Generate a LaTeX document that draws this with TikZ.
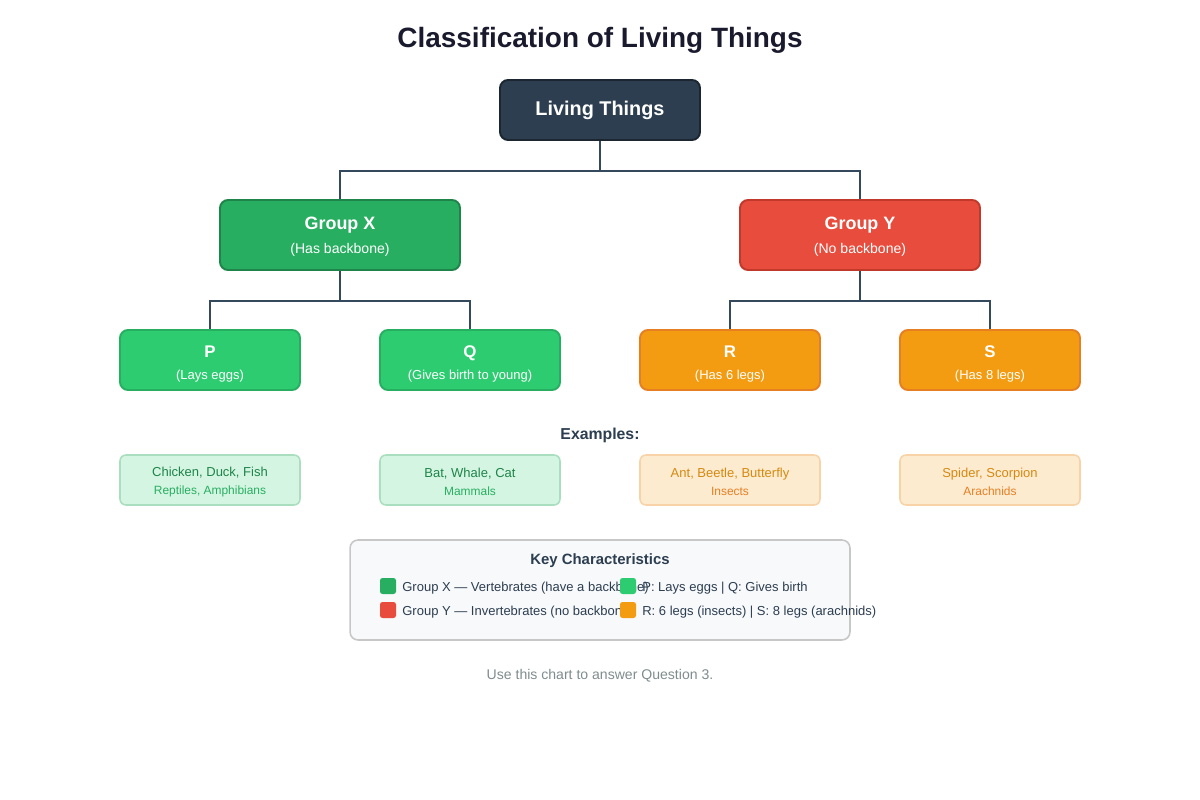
\documentclass[tikz,border=0pt]{standalone}
\usepackage{fontspec}
\setmainfont{Liberation Sans}
\usetikzlibrary{positioning}

\definecolor{ink}{HTML}{1A1A2E}
\definecolor{navy}{HTML}{2C3E50}
\definecolor{navyline}{HTML}{1B2631}
\definecolor{wire}{HTML}{34495E}
\definecolor{grdark}{HTML}{27AE60}
\definecolor{grdarkline}{HTML}{1E8449}
\definecolor{grlight}{HTML}{2ECC71}
\definecolor{redbox}{HTML}{E74C3C}
\definecolor{redline}{HTML}{C0392B}
\definecolor{orbox}{HTML}{F39C12}
\definecolor{orline}{HTML}{E67E22}
\definecolor{grpale}{HTML}{D5F5E3}
\definecolor{grpaleline}{HTML}{A9DFBF}
\definecolor{orpale}{HTML}{FDEBD0}
\definecolor{orpaleline}{HTML}{F8D3A8}
\definecolor{ortext}{HTML}{D68910}
\definecolor{keyfill}{HTML}{F8F9FA}
\definecolor{footgray}{HTML}{7F8C8D}

\begin{document}
\begin{tikzpicture}[x=0.02cm, y=-0.02cm,
    box/.style={draw, line width=1.1pt, rounded corners=0.16cm, align=center,
        text=white, inner sep=0pt},
    groupbox/.style={box, minimum width=4.8cm, minimum height=1.4cm},
    leafbox/.style={box, minimum width=3.6cm, minimum height=1.2cm},
    examplebox/.style={draw, line width=0.9pt, rounded corners=0.12cm, align=center,
        inner sep=0pt, minimum width=3.6cm, minimum height=1cm},
    conn/.style={draw=wire, line width=1.4pt},
    keysq/.style={rounded corners=0.05cm, minimum size=0.32cm, inner sep=0pt},
    keytext/.style={anchor=west, inner sep=0pt, text=navy, font=\fontsize{7.4}{9}\selectfont}]
    \useasboundingbox (0,0) rectangle (1200,800);

    \node[text=ink, font=\bfseries\fontsize{15.9}{18}\selectfont] (title) at (600,40) {Classification of Living Things};

    % tree
    \node[box, fill=navy, draw=navyline, minimum width=4cm, minimum height=1.2cm,
        font=\bfseries\fontsize{11.3}{13}\selectfont] (root) at (600,110) {Living Things};
    \node[groupbox, fill=grdark, draw=grdarkline] (gx) at (340,235)
        {{\bfseries\fontsize{10.2}{12}\selectfont\rule{0pt}{9pt}Group X}\\[1.8pt]{\fontsize{8}{10}\selectfont (Has backbone)}};
    \node[groupbox, fill=redbox, draw=redline] (gy) at (860,235)
        {{\bfseries\fontsize{10.2}{12}\selectfont\rule{0pt}{9pt}Group Y}\\[1.8pt]{\fontsize{8}{10}\selectfont (No backbone)}};
    \foreach \nm/\x/\col/\ln/\big/\small in {p/210/grlight/grdark/P/Lays eggs,
            q/470/grlight/grdark/Q/Gives birth to young,
            r/730/orbox/orline/R/Has 6 legs,
            s/990/orbox/orline/S/Has 8 legs} {
        \node[leafbox, fill=\col, draw=\ln] (\nm) at (\x,360)
            {{\bfseries\fontsize{9.6}{11}\selectfont\rule{0pt}{11pt}\big}\\[0.3pt]{\fontsize{7.4}{9}\selectfont (\small)}};
    }
    \draw[conn] (root.south) -- ++(0,30) -| (gx.north);
    \draw[conn] (root.south) -- ++(0,30) -| (gy.north);
    \draw[conn] (gx.south) -- ++(0,30) -| (p.north);
    \draw[conn] (gx.south) -- ++(0,30) -| (q.north);
    \draw[conn] (gy.south) -- ++(0,30) -| (r.north);
    \draw[conn] (gy.south) -- ++(0,30) -| (s.north);

    % examples
    \node[text=navy, font=\bfseries\fontsize{9}{11}\selectfont] (extitle) at (600,435) {Examples:};
    \node[examplebox, fill=grpale, draw=grpaleline] (exp) at (210,480)
        {{\fontsize{7.4}{9}\selectfont\color{grdarkline}\rule{0pt}{7.5pt}Chicken, Duck, Fish}\\[-1.6pt]{\fontsize{6.8}{8}\selectfont\color{grdark}Reptiles, Amphibians}};
    \node[examplebox, fill=grpale, draw=grpaleline] (exq) at (470,480)
        {{\fontsize{7.4}{9}\selectfont\color{grdarkline}\rule{0pt}{7.5pt}Bat, Whale, Cat}\\[-1.6pt]{\fontsize{6.8}{8}\selectfont\color{grdark}Mammals}};
    \node[examplebox, fill=orpale, draw=orpaleline] (exr) at (730,480)
        {{\fontsize{7.4}{9}\selectfont\color{ortext}\rule{0pt}{7.5pt}Ant, Beetle, Butterfly}\\[-1.6pt]{\fontsize{6.8}{8}\selectfont\color{orline}Insects}};
    \node[examplebox, fill=orpale, draw=orpaleline] (exs) at (990,480)
        {{\fontsize{7.4}{9}\selectfont\color{ortext}\rule{0pt}{7.5pt}Spider, Scorpion}\\[-1.6pt]{\fontsize{6.8}{8}\selectfont\color{orline}Arachnids}};

    % key
    \node[draw=black!22, fill=keyfill, line width=0.9pt, rounded corners=0.16cm,
        minimum width=10cm, minimum height=2cm, inner sep=0pt] (key) at (600,590) {};
    \node[text=navy, font=\bfseries\fontsize{8.5}{10}\selectfont] (keytitle) at (600,561) {Key Characteristics};
    \node[keysq, fill=grdark] (kx) at (388,586) {};
    \node[keysq, fill=redbox] (ky) at (388,610) {};
    \node[keytext] (kxt) at (402,588) {Group X — Vertebrates (have a backbone)};
    \node[keytext] (kyt) at (402,612) {Group Y — Invertebrates (no backbone)};
    \node[keysq, fill=grlight] (kpq) at (628,586) {};
    \node[keysq, fill=orbox] (krs) at (628,610) {};
    \node[keytext] (kpqt) at (642,588) {P: Lays eggs | Q: Gives birth};
    \node[keytext] (krst) at (642,612) {R: 6 legs (insects) | S: 8 legs (arachnids)};

    \node[text=footgray, font=\fontsize{8}{10}\selectfont] (foot) at (600,676) {Use this chart to answer Question 3.};
\end{tikzpicture}
\end{document}
